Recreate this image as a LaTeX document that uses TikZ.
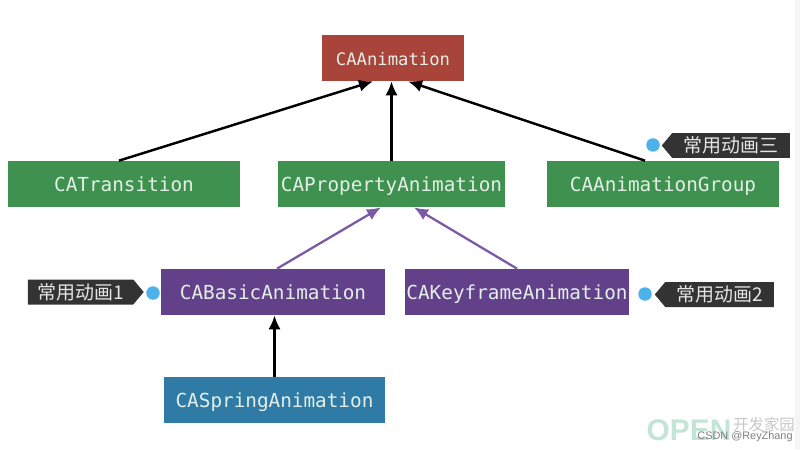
\documentclass[tikz,border=0pt]{standalone}
\usepackage{fontspec}
\setmonofont{DejaVu Sans Mono}
\setsansfont{Liberation Sans}
\newfontfamily\cjk{Noto Sans CJK SC}
\usepackage{tikz}
\usetikzlibrary{shapes.symbols,arrows.meta}
\definecolor{boxred}{HTML}{A8443A}
\definecolor{boxgreen}{HTML}{3F9150}
\definecolor{boxpurple}{HTML}{62418A}
\definecolor{boxblue}{HTML}{2F7BA6}
\definecolor{boxtext}{HTML}{E3EFE6}
\definecolor{tagdark}{HTML}{333333}
\definecolor{dotblue}{HTML}{4DB2EC}
\definecolor{arrowpurple}{HTML}{7A5AA6}
\definecolor{markgreen}{HTML}{C4E4D8}

\begin{document}
\begin{tikzpicture}[
  x=0.02cm,
  y=-0.02cm,
  classbox/.style={
    minimum height=0.92cm,
    text=boxtext,
    text height=9.5pt,
    text depth=1pt,
    font=\ttfamily\fontsize{11pt}{12pt}\selectfont,
    inner sep=0pt
  },
  redbox/.style={classbox, fill=boxred, minimum width=2.84cm, font=\ttfamily\fontsize{9.8pt}{12pt}\selectfont},
  greenbox/.style={classbox, fill=boxgreen, minimum width=4.6cm},
  purplebox/.style={classbox, fill=boxpurple, minimum width=4.48cm},
  bluebox/.style={classbox, fill=boxblue, minimum width=4.42cm},
  tagshape/.style={
    signal,
    signal pointer angle=100,
    fill=tagdark,
    text=white!90!black,
    font=\cjk\fontsize{10.8pt}{12pt}\selectfont,
    minimum height=0.5cm,
    inner sep=0pt,
    inner xsep=2pt
  },
  tagdot/.style={circle, fill=dotblue, minimum size=0.27cm, inner sep=0pt},
  blackarrow/.style={-{Latex[length=8pt,width=7pt]}, line width=1.4pt, black},
  purplearrow/.style={-{Latex[length=8pt,width=7pt]}, line width=1.3pt, arrowpurple}
]
\useasboundingbox (0,0) rectangle (800,449);
\fill[black!4] (795,0) rectangle (800,449);

\node[redbox] (animation) at (393,58) {CAAnimation};
\node[greenbox, minimum width=4.64cm] (transition) at (124,184) {CATransition};
\node[greenbox, minimum width=4.54cm] (property) at (391.5,184) {CAPropertyAnimation};
\node[greenbox, minimum width=4.64cm] (group) at (663,184) {CAAnimationGroup};
\node[purplebox] (basic) at (273,292) {CABasicAnimation};
\node[purplebox] (keyframe) at (517,292) {CAKeyframeAnimation};
\node[bluebox] (spring) at (274.5,400) {CASpringAnimation};

\draw[blackarrow] ([xshift=-0.1cm]transition.north) -- ([xshift=-0.4cm]animation.south);
\draw[blackarrow] (property.north) -- (property.north |- animation.south);
\draw[blackarrow] ([xshift=-0.36cm]group.north) -- ([xshift=0.3cm]animation.south);
\draw[purplearrow] ([xshift=0.08cm]basic.north) -- ([xshift=-0.21cm]property.south);
\draw[purplearrow] (keyframe.north) -- ([xshift=0.45cm]property.south);
\draw[blackarrow] (spring.north) -- (spring.north |- basic.south);

\node[tagshape, signal to=west, minimum width=2.56cm] (tagthree) at (731,145.5) {常用动画三};
\node[tagshape, signal to=east, minimum width=2.32cm] (tagone) at (80.5,292) {常用动画1\hspace{0.18cm}};
\node[tagshape, signal to=west, minimum width=2.38cm] (tagtwo) at (719.5,294.5) {常用动画2};
\node[tagdot] (dotthree) at (653,145) {};
\node[tagdot] (dotone) at (153,293) {};
\node[tagdot] (dottwo) at (645,294) {};

\node[text=markgreen, font=\sffamily\bfseries\fontsize{17pt}{18pt}\selectfont, inner sep=0pt] (openmark) at (689,430) {OPEN};
\node[text=black!22, font=\cjk\fontsize{8.8pt}{10pt}\selectfont, inner sep=0pt] (openname) at (764,425) {开发家园};
\node[text=black!50, font=\sffamily\fontsize{6.2pt}{8pt}\selectfont, inner sep=0pt] (csdnmark) at (745,437) {CSDN @ReyZhang};
\end{tikzpicture}
\end{document}
